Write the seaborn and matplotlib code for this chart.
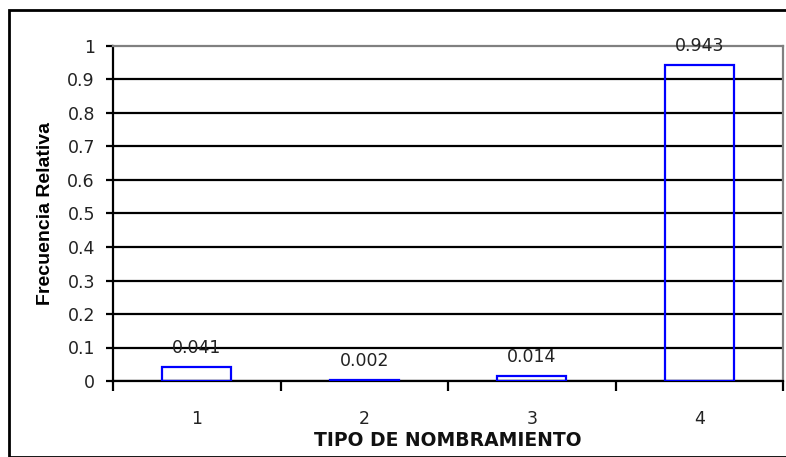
import numpy as np
import matplotlib
matplotlib.use("Agg")
import matplotlib.pyplot as plt
import seaborn as sns
from matplotlib.patches import Rectangle

sns.set_theme(style="white")
plt.rcParams["font.family"] = ["DejaVu Sans"]

tipos = ["1", "2", "3", "4"]
frecuencia = [0.041, 0.002, 0.014, 0.943]
etiquetas = ["0.041", "0.002", "0.014", "0.943"]
yticks = [0, 0.1, 0.2, 0.3, 0.4, 0.5, 0.6, 0.7, 0.8, 0.9, 1]
ytick_labels = ["0", "0.1", "0.2", "0.3", "0.4", "0.5", "0.6", "0.7", "0.8", "0.9", "1"]

fig = plt.figure(figsize=(7.86, 4.57), dpi=100)
ax = fig.add_axes([113 / 786, 1 - 381 / 457, 670 / 786, 335 / 457])

# outer chart border
fig.patches.append(Rectangle((9 / 786, 0), 1, 1 - 10 / 457, transform=fig.transFigure,
                             fill=False, edgecolor="black", linewidth=2, zorder=0))

sns.barplot(x=tipos, y=frecuencia, ax=ax, width=0.41, facecolor="none",
            edgecolor="blue", linewidth=1.6, zorder=3)

ax.set_ylim(0, 1)
ax.set_xlim(-0.5, 3.5)
ax.set_yticks(yticks)
ax.set_yticklabels(ytick_labels, fontsize=12.5, color="#222222")
for y in yticks[:-1]:
    ax.axhline(y, color="black", linewidth=1.6, zorder=1)

# category boundaries as major ticks, labels at centers
ax.set_xticks([-0.5, 0.5, 1.5, 2.5, 3.5])
ax.set_xticklabels([])
ax.set_xticks(range(len(tipos)), minor=True)
ax.set_xticklabels(tipos, minor=True, fontsize=12.5, color="#222222")
ax.tick_params(axis="x", which="major", direction="out", length=7, width=1.6,
               color="black", bottom=True)
ax.tick_params(axis="x", which="minor", length=0, pad=21)
ax.tick_params(axis="y", direction="out", length=5, width=1.6, color="black",
               left=True, pad=8)

for i, (v, t) in enumerate(zip(frecuencia, etiquetas)):
    ax.text(i, v + 0.058, t, ha="center", va="center", fontsize=12.5,
            color="#222222", zorder=4)

for side in ["top", "right"]:
    ax.spines[side].set_color("#808080")
    ax.spines[side].set_linewidth(1.6)
for side in ["left", "bottom"]:
    ax.spines[side].set_color("black")
    ax.spines[side].set_linewidth(1.6)

ax.set_xlabel("TIPO DE NOMBRAMIENTO", fontsize=13.5, fontweight="bold",
              labelpad=2, color="#111111")
ax.set_ylabel("Frecuencia Relativa", fontsize=14, fontweight="bold",
              family=["Liberation Sans", "DejaVu Sans"], color="black")
ax.yaxis.set_label_coords(-(113 - 54) / 670, 0.5)

fig.savefig("out.png", dpi=100)
